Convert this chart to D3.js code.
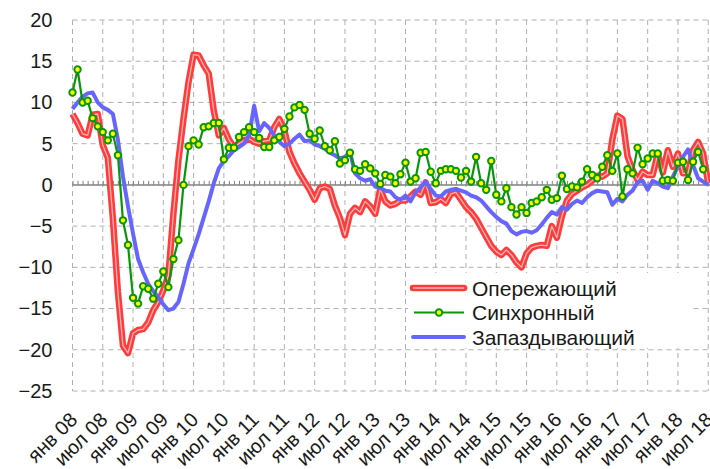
<!DOCTYPE html>
<html><head><meta charset="utf-8">
<script src="https://cdn.jsdelivr.net/npm/d3@7/dist/d3.min.js"></script>
<style>body{margin:0;background:#fff}svg{display:block;font-family:"Liberation Sans",Arial,sans-serif}</style>
</head><body><svg id="c" width="710" height="469"></svg>
<script>
const tickLabels = ["янв 08","июл 08","янв 09","июл 09","янв 10","июл 10","янв 11","июл 11","янв 12","июл 12","янв 13","июл 13","янв 14","июл 14","янв 15","июл 15","янв 16","июл 16","янв 17","июл 17","янв 18","июл 18"];
const yTicks = [20,15,10,5,0,-5,-10,-15,-20,-25];
const seriesNames = ["Опережающий","Синхронный","Запаздывающий"];

// Опережающий (leading), monthly from янв 08
const leading = [8.6,7.5,6.2,6.0,8.5,8.6,4.8,3.3,-4.0,-13.0,
-19.5,-20.4,-18.0,-17.6,-17.5,-16.7,-15.2,-14.2,-12.8,-11.0,
-3.5,3.0,8.0,12.5,15.8,15.7,14.5,13.5,9.0,6.0,
6.9,5.5,4.6,5.0,5.4,5.6,5.2,5.0,5.3,5.4,
7.0,8.0,6.6,4.0,2.6,1.4,0.4,-0.6,-1.8,-0.4,
-0.2,-0.5,-2.5,-4.0,-6.1,-3.5,-2.8,-3.3,-2.0,-2.6,
-3.5,-0.5,-2.0,-2.5,-2.3,-1.9,-1.9,-1.4,-0.8,-1.2,
0.3,-2.2,-2.1,-1.7,-2.2,-1.1,-0.9,-1.8,-2.7,-3.3,
-4.1,-5.2,-6.3,-7.4,-8.1,-8.5,-7.9,-8.5,-9.4,-10.0,
-8.3,-7.6,-7.4,-7.3,-7.4,-5.0,-6.4,-3.8,-1.9,-1.1,
-0.7,-0.3,0.0,0.5,1.1,1.0,1.4,5.5,8.4,8.0,
3.5,1.8,0.6,1.6,1.2,1.2,3.8,1.5,4.2,2.2,
3.8,1.4,1.4,4.2,5.2,3.8,0.2];

// Синхронный (coincident)
const coincident = [11.2,14.0,10.0,10.2,8.1,7.1,6.4,5.4,6.2,3.6,
-4.3,-7.3,-13.7,-14.4,-12.3,-12.6,-13.8,-12.0,-10.5,-12.4,
-9.0,-6.7,0.0,4.7,5.4,4.9,7.0,7.1,7.5,7.5,
3.1,4.5,4.5,5.8,6.4,7.0,6.4,5.7,4.6,4.6,
5.4,5.8,6.8,8.3,9.4,9.7,9.1,6.2,5.6,6.6,
4.7,4.2,5.3,2.6,3.0,3.9,1.9,1.7,2.5,2.0,
1.4,0.1,1.2,1.0,0.2,1.3,2.7,0.4,0.8,3.9,
4.0,1.6,0.2,1.7,1.9,1.9,1.7,0.9,1.7,0.4,
3.4,0.2,-0.6,2.9,-1.2,-2.0,-0.4,-2.7,-3.6,-2.7,
-3.4,-2.2,-2.0,-1.5,-0.6,-1.8,-1.6,1.1,-0.5,-0.2,
-0.3,0.4,1.9,1.2,0.8,2.2,3.6,1.7,3.8,-1.4,
1.9,1.4,4.5,2.5,3.2,3.8,3.8,0.5,0.6,0.5,
2.7,2.8,0.6,2.8,4.0,1.9];

// Запаздывающий (lagging)
const lagging = [9.2,10.0,10.7,11.1,11.2,10.0,9.4,9.1,8.6,5.5,
1.0,-2.6,-5.9,-9.0,-10.6,-12.0,-12.9,-13.6,-14.5,-15.2,
-15.0,-14.2,-12.0,-9.5,-7.8,-6.0,-4.0,-2.0,0.2,2.0,
2.9,3.5,4.2,4.6,5.0,6.0,9.6,6.5,7.5,6.9,
6.0,5.2,4.7,5.0,5.6,6.1,5.3,5.4,4.9,4.7,
4.4,3.9,3.6,3.2,3.4,4.0,1.4,0.8,0.5,0.7,
-0.2,-0.4,-0.7,-0.8,-1.5,-1.8,-1.3,-2.0,-0.9,-0.3,
0.4,-0.5,-1.3,-1.4,-0.8,-0.6,-0.5,-0.7,-0.9,-1.3,
-1.5,-1.9,-2.6,-3.3,-3.9,-4.4,-4.7,-5.6,-6.0,-5.7,
-5.6,-5.8,-5.5,-4.8,-4.0,-3.3,-3.6,-2.7,-3.0,-2.3,
-1.9,-2.2,-1.5,-1.0,-0.7,-0.8,-0.9,-2.4,-1.7,-2.0,
-1.2,-0.7,0.3,0.5,-0.6,0.5,0.2,-0.2,-0.4,1.0,
2.2,3.4,4.3,2.4,0.8,0.4,0.0];

const W = 710, H = 469;
const svg = d3.select("#c");
const x = d3.scaleLinear().domain([0, 126]).range([72.5, 708.2]);
const y = d3.scaleLinear().domain([-25, 20]).range([391, 20]);
const monthTicks = d3.range(0, 127);
const labelTicks = d3.range(0, 127, 6);
const FONT = "Liberation Sans, Arial, sans-serif";

const gridColor = "#b0b0b0";
// horizontal grid
svg.append("g").selectAll("line").data(yTicks.filter(d => d !== 0)).join("line")
  .attr("x1", x(0)).attr("x2", W).attr("y1", d => y(d)).attr("y2", d => y(d))
  .attr("stroke", gridColor).attr("stroke-width", 1).attr("stroke-dasharray", "5,4");
// vertical grid
svg.append("g").selectAll("line").data(labelTicks).join("line")
  .attr("x1", d => x(d)).attr("x2", d => x(d)).attr("y1", y(20)).attr("y2", y(-25))
  .attr("stroke", gridColor).attr("stroke-width", 1).attr("stroke-dasharray", "5,4");

// y axis labels
const yAxis = svg.append("g").attr("transform", `translate(${x(0)},0)`)
  .call(d3.axisLeft(y).tickValues(yTicks).tickSize(0).tickPadding(20).tickFormat(d3.format("d")));
yAxis.select(".domain").remove();
yAxis.selectAll("text").attr("font-size", 20).attr("fill", "#1a1a1a").attr("font-family", FONT);

// x axis labels (rotated)
const xAxis = svg.append("g").attr("transform", `translate(0,${y(-25)})`)
  .call(d3.axisBottom(x).tickValues(labelTicks).tickSize(0).tickFormat((d, i) => tickLabels[i]));
xAxis.select(".domain").remove();
xAxis.selectAll("text").attr("font-size", 20).attr("fill", "#1a1a1a")
  .attr("font-family", FONT)
  .attr("y", null).attr("dy", null).attr("text-anchor", "end")
  .attr("transform", "translate(5.5,30) rotate(-45)");

// zero axis with monthly minor ticks
const zAxis = svg.append("g").attr("transform", `translate(0,${y(0)})`)
  .call(d3.axisTop(x).tickValues(monthTicks).tickSize(4).tickSizeOuter(0).tickFormat(""));
zAxis.select(".domain").attr("stroke", "#808080").attr("stroke-width", 1.5).attr("d", `M${x(0)},0H${W}`);
zAxis.selectAll(".tick line").attr("stroke", "#808080").attr("stroke-width", 1);

const line = d3.line().x((d, i) => x(i)).y(d => y(d));

// leading (red, double-stroke look)
svg.append("path").datum(leading).attr("d", line).attr("fill", "none")
  .attr("stroke", "#ff3b3b").attr("stroke-width", 6.5).attr("stroke-linejoin", "round");
svg.append("path").datum(leading).attr("d", line).attr("fill", "none")
  .attr("stroke", "#ffb4b4").attr("stroke-width", 1.3).attr("stroke-linejoin", "round");

// lagging (blue)
svg.append("path").datum(lagging).attr("d", line).attr("fill", "none")
  .attr("stroke", "#6666ff").attr("stroke-width", 4).attr("stroke-linejoin", "round");

// coincident (green with yellow markers)
svg.append("path").datum(coincident).attr("d", line).attr("fill", "none")
  .attr("stroke", "#0a960a").attr("stroke-width", 2.2).attr("stroke-linejoin", "round");
svg.append("g").selectAll("circle").data(coincident).join("circle")
  .attr("cx", (d, i) => x(i)).attr("cy", d => y(d)).attr("r", 3.2)
  .attr("fill", "#ffff00").attr("stroke", "#0a960a").attr("stroke-width", 2);

// legend
const lg = svg.append("g");
lg.append("rect").attr("x", 408).attr("y", 273).attr("width", 284).attr("height", 75).attr("fill", "#fff");
const rowY = [288, 312.5, 337];
const items = lg.selectAll("g").data(seriesNames).join("g")
  .attr("transform", (d, i) => `translate(0,${rowY[i]})`);
items.each(function(d, i) {
  const g = d3.select(this);
  if (i === 0) {
    g.append("line").attr("x1", 413).attr("x2", 464).attr("stroke", "#ff3b3b").attr("stroke-width", 6.5).attr("stroke-linecap", "round");
    g.append("line").attr("x1", 413).attr("x2", 464).attr("stroke", "#ffb4b4").attr("stroke-width", 1.3);
  } else if (i === 1) {
    g.append("line").attr("x1", 414).attr("x2", 464).attr("stroke", "#0a960a").attr("stroke-width", 2.2);
    g.append("circle").attr("cx", 439).attr("cy", 0).attr("r", 3.2).attr("fill", "#ffff00").attr("stroke", "#0a960a").attr("stroke-width", 2);
  } else {
    g.append("line").attr("x1", 413).attr("x2", 464).attr("stroke", "#6666ff").attr("stroke-width", 4).attr("stroke-linecap", "round");
  }
  g.append("text").attr("x", 472).attr("y", 7.5).attr("font-size", 21).attr("fill", "#1a1a1a")
    .attr("font-family", FONT).text(d);
});
</script></body></html>
